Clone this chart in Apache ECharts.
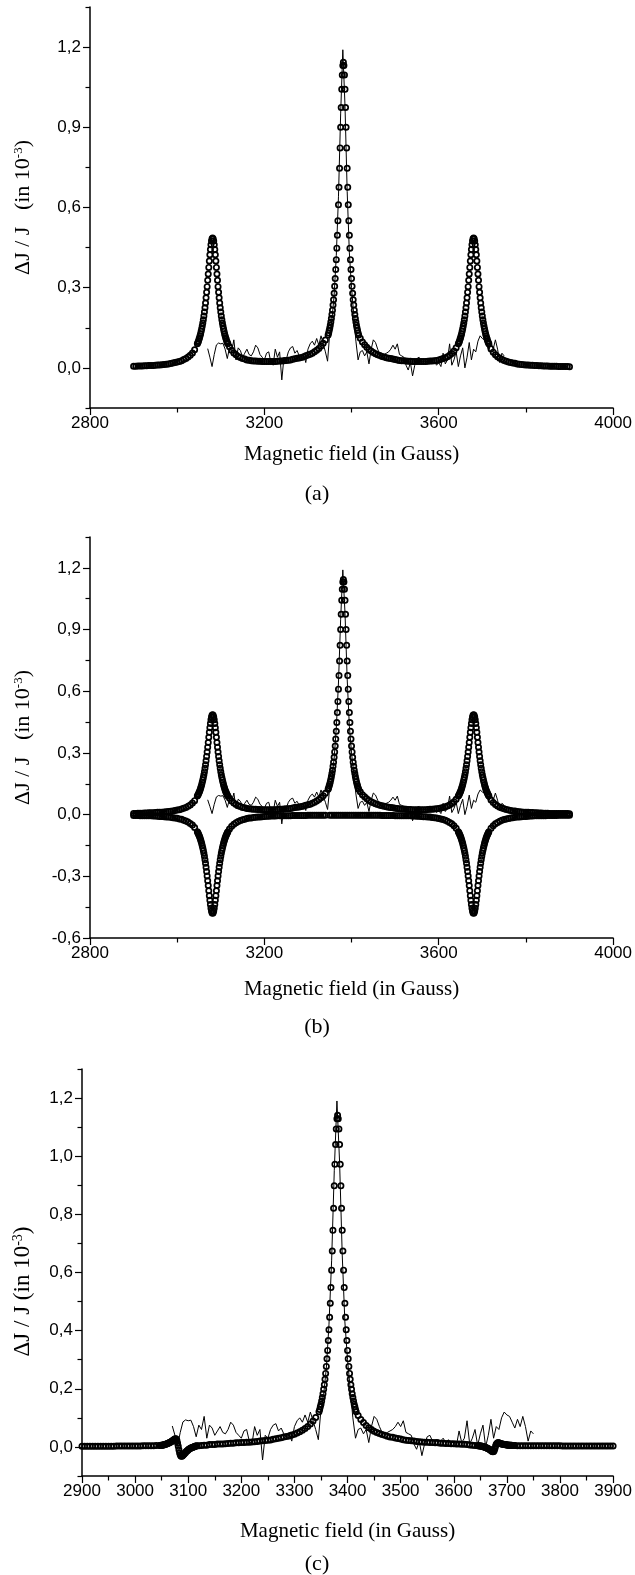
<!DOCTYPE html>
<html>
<head>
<meta charset="utf-8">
<script src="https://cdn.jsdelivr.net/npm/echarts@6/dist/echarts.min.js"></script>
<style>
html,body{margin:0;padding:0;background:#fff;}
#chart{width:635px;height:1575px;}
</style>
</head>
<body>
<div id="chart"></div>
<script>
// ---------- Fit curve sample positions (Gauss) ----------
const FIELD_FIT = [
2900,2905,2910,2915,2920,2925,2930,2935,2940,2945,2950,2955,2960,2965,2970,2975,2980,2985,2990,2995,3000,3005,3010,3015,3020,3025,3030,3035,3040,
3046.25,3047.5,3048.75,3050,3051.25,3052.5,3053.75,3055,3056.25,3057.5,3058.75,3060,3061.25,3062.5,3063.75,3065,3066.25,3067.5,3068.75,3070,3071.25,3072.5,3073.75,3075,3076.25,3077.5,3078.75,3080,3081.25,3082.5,3083.75,3085,3086.25,3087.5,3088.75,3090,3091.25,3092.5,3093.75,3095,3096.25,3097.5,3098.75,3100,3101.25,3102.5,3103.75,3105,3106.25,3107.5,3108.75,3110,3111.25,3112.5,3113.75,3115,3116.25,
3120,3125,3130,3135,3140,3145,3150,3155,3160,3165,3170,3175,3180,3185,3190,3195,3200,3205,3210,3215,3220,3225,3230,3235,3240,3245,3250,3255,3260,3265,3270,3275,3280,3285,3290,3295,3300,3305,3310,3315,3320,3325,3330,3335,3340,
3346.25,3347.5,3348.75,3350,3351.25,3352.5,3353.75,3355,3356.25,3357.5,3358.75,3360,3361.25,3362.5,3363.75,3365,3366.25,3367.5,3368.75,3370,3371.25,3372.5,3373.75,3375,3376.25,3377.5,3378.75,3380,3381.25,3382.5,3383.75,3385,3386.25,3387.5,3388.75,3390,3391.25,3392.5,3393.75,3395,3396.25,3397.5,3398.75,3400,3401.25,3402.5,3403.75,3405,3406.25,3407.5,3408.75,3410,3411.25,3412.5,3413.75,3415,3416.25,
3420,3425,3430,3435,3440,3445,3450,3455,3460,3465,3470,3475,3480,3485,3490,3495,3500,3505,3510,3515,3520,3525,3530,3535,3540,3545,3550,3555,3560,3565,3570,3575,3580,3585,3590,3595,3600,3605,3610,3615,3620,3625,3630,3635,3640,
3645,3646.25,3647.5,3648.75,3650,3651.25,3652.5,3653.75,3655,3656.25,3657.5,3658.75,3660,3661.25,3662.5,3663.75,3665,3666.25,3667.5,3668.75,3670,3671.25,3672.5,3673.75,3675,3676.25,3677.5,3678.75,3680,3681.25,3682.5,3683.75,3685,3686.25,3687.5,3688.75,3690,3691.25,3692.5,3693.75,3695,3696.25,3697.5,3698.75,3700,3701.25,3702.5,3703.75,3705,3706.25,3707.5,3708.75,3710,3711.25,3712.5,3713.75,3715,
3720,3725,3730,3735,3740,3745,3750,3755,3760,3765,3770,3775,3780,3785,3790,3795,3800,3805,3810,3815,3820,3825,3830,3835,3840,3845,3850,3855,3860,3865,3870,3875,3880,3885,3890,3895,3900
];

// Upper fit (panels a and b), in 10^-3
const FIT_UPPER = [
0.006,0.006,0.007,0.007,0.007,0.008,0.008,0.009,0.009,0.009,0.010,0.011,0.011,0.012,0.013,0.014,0.015,0.016,0.018,0.020,0.022,0.024,0.027,0.031,0.035,0.041,0.047,0.056,0.068,
0.090,0.095,0.100,0.107,0.113,0.120,0.128,0.137,0.146,0.157,0.168,0.180,0.194,0.209,0.225,0.243,0.262,0.283,0.304,0.328,0.351,0.376,0.400,0.423,0.443,0.461,0.475,0.483,0.486,0.483,0.475,0.461,0.443,0.423,0.400,0.376,0.351,0.328,0.304,0.283,0.262,0.243,0.225,0.209,0.194,0.180,0.168,0.157,0.146,0.137,0.128,0.120,0.113,0.107,0.100,0.095,0.090,
0.079,0.066,0.056,0.049,0.043,0.039,0.035,0.033,0.030,0.029,0.027,0.026,0.026,0.025,0.025,0.024,0.024,0.024,0.024,0.024,0.024,0.024,0.025,0.026,0.026,0.027,0.028,0.029,0.030,0.032,0.034,0.036,0.037,0.039,0.042,0.045,0.048,0.051,0.055,0.060,0.066,0.073,0.082,0.092,0.104,
0.123,0.131,0.140,0.149,0.160,0.172,0.185,0.200,0.216,0.235,0.255,0.279,0.305,0.334,0.368,0.405,0.448,0.496,0.550,0.610,0.676,0.747,0.823,0.900,0.974,1.042,1.096,1.131,1.143,1.131,1.096,1.042,0.974,0.900,0.823,0.747,0.676,0.610,0.550,0.496,0.448,0.405,0.368,0.334,0.305,0.279,0.255,0.235,0.216,0.200,0.185,0.172,0.160,0.149,0.140,0.131,0.123,
0.111,0.097,0.087,0.077,0.069,0.063,0.058,0.053,0.049,0.046,0.043,0.041,0.038,0.036,0.035,0.033,0.031,0.030,0.028,0.027,0.027,0.026,0.025,0.025,0.024,0.024,0.024,0.024,0.024,0.024,0.024,0.025,0.026,0.026,0.027,0.028,0.030,0.032,0.035,0.038,0.042,0.047,0.054,0.063,0.075,
0.090,0.095,0.100,0.107,0.113,0.120,0.128,0.137,0.146,0.157,0.168,0.180,0.194,0.209,0.225,0.243,0.262,0.283,0.304,0.328,0.351,0.376,0.400,0.423,0.443,0.461,0.475,0.483,0.486,0.483,0.475,0.461,0.443,0.423,0.400,0.376,0.351,0.328,0.304,0.283,0.262,0.243,0.225,0.209,0.194,0.180,0.168,0.157,0.146,0.137,0.128,0.120,0.113,0.107,0.100,0.095,0.090,
0.071,0.059,0.049,0.042,0.036,0.032,0.028,0.025,0.022,0.020,0.018,0.017,0.015,0.014,0.013,0.012,0.011,0.011,0.010,0.010,0.009,0.009,0.008,0.008,0.007,0.007,0.007,0.006,0.006,0.006,0.006,0.005,0.005,0.005,0.005,0.005,0.004
];

// Lower (inverted side lines) fit, panel b  (null = no sample at that field)
const FIT_LOWER = [
-0.004,-0.004,-0.004,-0.005,-0.005,-0.005,-0.006,-0.006,-0.006,-0.007,-0.007,-0.008,-0.009,-0.009,-0.010,-0.011,-0.012,-0.013,-0.015,-0.016,-0.018,-0.021,-0.023,-0.027,-0.031,-0.036,-0.043,-0.051,-0.063,
-0.083,-0.088,-0.094,-0.100,-0.107,-0.114,-0.122,-0.131,-0.140,-0.151,-0.162,-0.174,-0.188,-0.203,-0.219,-0.237,-0.256,-0.277,-0.298,-0.322,-0.345,-0.370,-0.394,-0.417,-0.437,-0.455,-0.469,-0.477,-0.480,-0.477,-0.469,-0.455,-0.437,-0.417,-0.394,-0.370,-0.345,-0.322,-0.298,-0.277,-0.256,-0.237,-0.219,-0.203,-0.188,-0.174,-0.162,-0.151,-0.140,-0.131,-0.122,-0.114,-0.107,-0.100,-0.094,-0.088,-0.083,
-0.070,-0.057,-0.047,-0.039,-0.034,-0.029,-0.025,-0.022,-0.019,-0.017,-0.016,-0.014,-0.013,-0.012,-0.011,-0.010,-0.009,-0.008,-0.008,-0.007,-0.007,-0.007,-0.006,-0.006,-0.006,-0.005,-0.005,-0.005,-0.005,-0.004,-0.004,-0.004,-0.004,-0.004,-0.004,-0.004,-0.003,-0.003,-0.003,-0.003,-0.003,-0.003,-0.003,-0.003,-0.003,
null,null,null,-0.003,null,null,null,-0.003,null,null,null,-0.003,null,null,null,-0.003,null,null,null,-0.003,null,null,null,-0.003,null,null,null,-0.003,
null,null,null,-0.003,null,null,null,-0.003,null,null,null,-0.003,null,null,null,-0.003,null,null,null,-0.003,null,null,null,-0.003,null,null,null,-0.003,
null,
-0.003,-0.003,-0.003,-0.003,-0.003,-0.003,-0.003,-0.003,-0.003,-0.003,-0.004,-0.004,-0.004,-0.004,-0.004,-0.004,-0.005,-0.005,-0.005,-0.005,-0.005,-0.006,-0.006,-0.006,-0.007,-0.007,-0.008,-0.008,-0.009,-0.010,-0.010,-0.011,-0.012,-0.014,-0.015,-0.017,-0.019,-0.021,-0.024,-0.028,-0.032,-0.038,-0.045,-0.054,-0.066,
-0.083,-0.088,-0.094,-0.100,-0.107,-0.114,-0.122,-0.131,-0.140,-0.151,-0.162,-0.174,-0.188,-0.203,-0.219,-0.237,-0.256,-0.277,-0.298,-0.322,-0.345,-0.370,-0.394,-0.417,-0.437,-0.455,-0.469,-0.477,-0.480,-0.477,-0.469,-0.455,-0.437,-0.417,-0.394,-0.370,-0.345,-0.322,-0.298,-0.277,-0.256,-0.237,-0.219,-0.203,-0.188,-0.174,-0.162,-0.151,-0.140,-0.131,-0.122,-0.114,-0.107,-0.100,-0.094,-0.088,-0.083,
-0.066,-0.054,-0.045,-0.038,-0.032,-0.028,-0.024,-0.021,-0.019,-0.017,-0.015,-0.013,-0.012,-0.011,-0.010,-0.009,-0.009,-0.008,-0.007,-0.007,-0.006,-0.006,-0.006,-0.005,-0.005,-0.005,-0.004,-0.004,-0.004,-0.004,-0.004,-0.003,-0.003,-0.003,-0.003,-0.003,-0.003
];

// Fit of panel c
const FIT_C = [
0.002,0.002,0.002,0.002,0.002,0.002,0.002,0.002,0.002,0.002,0.002,0.002,0.002,0.003,0.003,0.003,0.003,0.003,0.003,0.003,0.003,0.003,0.003,0.004,0.004,0.004,0.004,0.004,0.005,
0.005,0.005,0.006,0.006,0.006,0.007,0.007,0.008,0.008,0.009,0.010,0.011,0.012,0.013,0.014,0.015,0.016,0.018,0.019,0.021,0.022,0.024,0.026,0.027,0.028,0.027,0.022,0.013,0.002,-0.010,-0.020,-0.027,-0.031,-0.032,-0.031,-0.029,-0.026,-0.024,-0.021,-0.019,-0.016,-0.014,-0.012,-0.010,-0.008,-0.006,-0.005,-0.004,-0.003,-0.002,-0.001,0.000,0.001,0.002,0.002,0.003,0.004,
0.004,0.005,0.006,0.006,0.008,0.008,0.008,0.010,0.010,0.010,0.011,0.012,0.013,0.013,0.014,0.014,0.015,0.015,0.016,0.016,0.017,0.018,0.019,0.020,0.021,0.022,0.023,0.024,0.026,0.028,0.030,0.032,0.034,0.036,0.038,0.041,0.044,0.048,0.052,0.057,0.063,0.070,0.079,0.089,0.101,
0.121,0.129,0.138,0.147,0.158,0.170,0.183,0.198,0.214,0.233,0.253,0.277,0.303,0.332,0.366,0.403,0.446,0.494,0.548,0.608,0.674,0.745,0.821,0.898,0.972,1.040,1.094,1.129,1.141,1.129,1.094,1.040,0.972,0.898,0.821,0.745,0.674,0.608,0.548,0.494,0.446,0.403,0.366,0.332,0.303,0.277,0.253,0.233,0.214,0.198,0.183,0.170,0.158,0.147,0.138,0.129,0.121,
0.108,0.094,0.084,0.074,0.066,0.060,0.054,0.050,0.046,0.043,0.040,0.037,0.034,0.033,0.031,0.029,0.027,0.025,0.023,0.022,0.021,0.020,0.019,0.018,0.017,0.016,0.016,0.015,0.015,0.014,0.014,0.013,0.013,0.012,0.012,0.011,0.011,0.010,0.010,0.009,0.009,0.008,0.007,0.006,0.005,
0.004,0.004,0.004,0.003,0.003,0.003,0.002,0.002,0.001,0.001,0.000,-0.001,-0.002,-0.003,-0.004,-0.005,-0.006,-0.007,-0.009,-0.010,-0.012,-0.014,-0.016,-0.017,-0.016,-0.012,-0.005,0.003,0.009,0.012,0.014,0.014,0.014,0.013,0.012,0.011,0.010,0.010,0.009,0.009,0.008,0.008,0.008,0.007,0.007,0.007,0.007,0.006,0.006,0.006,0.006,0.006,0.005,0.005,0.005,0.005,0.005,
0.004,0.004,0.004,0.004,0.004,0.004,0.004,0.004,0.004,0.004,0.004,0.004,0.004,0.004,0.004,0.004,0.004,0.003,0.003,0.003,0.003,0.003,0.003,0.003,0.003,0.003,0.003,0.003,0.003,0.003,0.003,0.003,0.003,0.003,0.003,0.003,0.003
];

// ---------- Measured signal (thin line), same in all panels ----------
const FIELD_DATA = [
3070,3075,3080,3085,3090,3095,3100,3105,3110,3115,3120,3125,3130,3135,3140,3145,3150,3155,3160,3165,3170,3175,3180,3185,3190,3195,3200,3205,3210,3215,3220,3225,3230,3235,3240,3245,3250,3255,3260,3265,3270,3275,3280,3285,3290,3295,3300,3305,3310,3315,3320,3325,3330,3335,3340,3345,
3350,3355,3360,3365,3370,3375,3380,3385,3390,3395,3400,3405,3410,3415,
3420,3425,3430,3435,3440,3445,3450,3455,3460,3465,3470,3475,3480,3485,3490,3495,3500,3505,3510,3515,3520,3525,3530,3535,3540,3545,3550,3555,3560,3565,3570,3575,3580,3585,3590,3595,3600,3605,3610,3615,3620,3625,3630,3635,3640,3645,3650,3655,3660,3665,3670,3675,3680,3685,3690,3695,3700,3705,3710,3715,3720,3725,3730,3735,3740,3745,3750
];
const SIGNAL = [
0.072,0.040,0.005,0.050,0.086,0.093,0.090,0.092,0.070,0.035,0.075,0.060,0.105,0.030,0.075,0.065,0.040,0.055,0.070,0.050,0.045,0.060,0.085,0.075,0.050,0.040,0.030,0.055,0.060,0.020,0.010,0.070,0.040,0.060,-0.045,0.040,0.030,0.060,0.075,0.080,0.055,0.065,0.045,0.030,0.050,0.020,0.070,0.090,0.100,0.085,0.110,0.085,0.120,0.090,0.060,0.025,
0.130,0.180,0.270,0.420,0.640,0.950,1.190,0.980,0.660,0.430,0.300,0.200,0.100,0.030,
0.060,0.065,0.045,0.060,0.015,0.070,0.105,0.095,0.070,0.050,0.040,0.050,0.055,0.060,0.070,0.085,0.070,0.090,0.050,0.045,0.040,0.010,-0.008,0.020,-0.030,0.010,0.035,0.040,0.020,0.025,0.025,0.020,0.030,0.015,0.025,0.010,0.020,0.005,0.055,0.015,0.030,0.090,0.010,0.030,0.060,0.005,0.045,0.075,0.000,0.040,0.095,0.030,0.070,0.060,0.100,0.120,0.110,0.105,0.085,0.065,0.095,0.070,0.105,0.070,0.020,0.055,0.045
];

// ---------- Ticks ----------
const Y_TICKS_A = [0, 0.3, 0.6, 0.9, 1.2];
const Y_MINOR_A = [-0.15, 0.15, 0.45, 0.75, 1.05, 1.35];
const Y_TICKS_B = [-0.6, -0.3, 0, 0.3, 0.6, 0.9, 1.2];
const Y_MINOR_B = [-0.45, -0.15, 0.15, 0.45, 0.75, 1.05, 1.35];
const Y_TICKS_C = [0, 0.2, 0.4, 0.6, 0.8, 1.0, 1.2];
const Y_MINOR_C = [-0.1, 0.1, 0.3, 0.5, 0.7, 0.9, 1.1, 1.3];

const X_TITLE = 'Magnetic field (in Gauss)';

const pair = (xs, ys) => xs.map((x, i) => [x, ys[i]]).filter(p => p[1] !== null);
const comma = v => Number(v).toFixed(1).replace('.', ',');
const plain = v => String(Math.round(v));

const SANS = '"Liberation Sans", Arial, sans-serif';
const SERIF = '"Liberation Serif", "Times New Roman", serif';
const BLACK = '#000';

function xAxis(grid, min, max, interval, gap) {
  return {
    gridIndex: grid, type: 'value', min: min, max: max, interval: interval,
    position: 'bottom',
    axisLine: { show: true, onZero: false, lineStyle: { color: BLACK, width: 1.5 } },
    axisTick: { show: true, inside: false, length: 7, lineStyle: { color: BLACK, width: 1.2 } },
    minorTick: { show: true, splitNumber: 2, length: 4.5, lineStyle: { color: BLACK, width: 1.2 } },
    axisLabel: { formatter: plain, color: BLACK, fontFamily: SANS, fontSize: 17, margin: 7 },
    splitLine: { show: false }, minorSplitLine: { show: false },
    name: X_TITLE, nameLocation: 'middle', nameGap: gap,
    nameTextStyle: { color: BLACK, fontFamily: SERIF, fontSize: 21 }
  };
}
function yMajor(grid, min, max, ticks, name, fs, gap, shift) {
  return {
    gridIndex: grid, type: 'value', min: min, max: max, position: 'left',
    axisLine: { show: true, onZero: false, lineStyle: { color: BLACK, width: 1.5 } },
    axisTick: { show: true, inside: false, length: 7, customValues: ticks, lineStyle: { color: BLACK, width: 1.2 } },
    axisLabel: { customValues: ticks, formatter: comma, color: BLACK, fontFamily: SANS, fontSize: 17, margin: 9 },
    splitLine: { show: false },
    name: name, nameLocation: 'middle', nameGap: gap,
    nameTextStyle: {
      color: BLACK, fontFamily: SERIF, fontSize: fs,
      padding: [0, shift, 0, 0],
      rich: { sup: { fontFamily: SERIF, fontSize: Math.round(fs * 0.6), color: BLACK, verticalAlign: 'top', padding: [0, 0, Math.round(fs * 0.45), 0] } }
    }
  };
}
function yMinor(grid, min, max, ticks) {
  return {
    gridIndex: grid, type: 'value', min: min, max: max, position: 'left',
    axisLine: { show: false, onZero: false },
    axisTick: { show: true, inside: false, length: 4.5, customValues: ticks, lineStyle: { color: BLACK, width: 1.2 } },
    axisLabel: { show: false },
    splitLine: { show: false }
  };
}
function fitSeries(xi, yi, ys) {
  return {
    type: 'scatter', xAxisIndex: xi, yAxisIndex: yi, data: pair(FIELD_FIT, ys),
    symbol: 'circle', symbolSize: 5.3, silent: true, z: 2, large: false,
    itemStyle: { color: 'rgba(255,255,255,0)', borderColor: BLACK, borderWidth: 1.7, opacity: 1 }
  };
}
function dataSeries(xi, yi) {
  return {
    type: 'line', xAxisIndex: xi, yAxisIndex: yi, data: pair(FIELD_DATA, SIGNAL),
    showSymbol: false, symbol: 'none', silent: true, z: 3,
    lineStyle: { color: BLACK, width: 1 }
  };
}

const chart = echarts.init(document.getElementById('chart'), null, { renderer: 'canvas' });
chart.setOption({
  animation: false,
  backgroundColor: '#fff',
  grid: [
    { left: 90, top: 7, width: 526, height: 401 },
    { left: 90, top: 537, width: 526, height: 401 },
    { left: 82, top: 1069, width: 534, height: 407 }
  ],
  xAxis: [
    xAxis(0, 2800, 4000, 400, 36),
    xAxis(1, 2800, 4000, 400, 41),
    xAxis(2, 2900, 3900, 100, 45)
  ],
  yAxis: [
    yMajor(0, -0.15, 1.35, Y_TICKS_A, '\u0394J / J   (in 10{sup|-3})', 22, 55, 0),
    yMinor(0, -0.15, 1.35, Y_MINOR_A),
    yMajor(1, -0.6, 1.35, Y_TICKS_B, '\u0394J / J   (in 10{sup|-3})', 22, 55, 0),
    yMinor(1, -0.6, 1.35, Y_MINOR_B),
    yMajor(2, -0.1, 1.3, Y_TICKS_C, '\u0394J / J (in 10{sup|-3})', 23, 47, 38),
    yMinor(2, -0.1, 1.3, Y_MINOR_C)
  ],
  series: [
    fitSeries(0, 0, FIT_UPPER),
    dataSeries(0, 0),
    fitSeries(1, 2, FIT_UPPER),
    fitSeries(1, 2, FIT_LOWER),
    dataSeries(1, 2),
    fitSeries(2, 4, FIT_C),
    dataSeries(2, 4)
  ],
  graphic: [
    { type: 'text', x: 317, y: 494, style: { text: '(a)', fill: BLACK, font: '22px ' + SERIF, align: 'center', verticalAlign: 'middle', textAlign: 'center', textVerticalAlign: 'middle' } },
    { type: 'text', x: 317, y: 1027, style: { text: '(b)', fill: BLACK, font: '22px ' + SERIF, align: 'center', verticalAlign: 'middle', textAlign: 'center', textVerticalAlign: 'middle' } },
    { type: 'text', x: 317, y: 1564, style: { text: '(c)', fill: BLACK, font: '22px ' + SERIF, align: 'center', verticalAlign: 'middle', textAlign: 'center', textVerticalAlign: 'middle' } }
  ]
});
</script>
</body>
</html>
